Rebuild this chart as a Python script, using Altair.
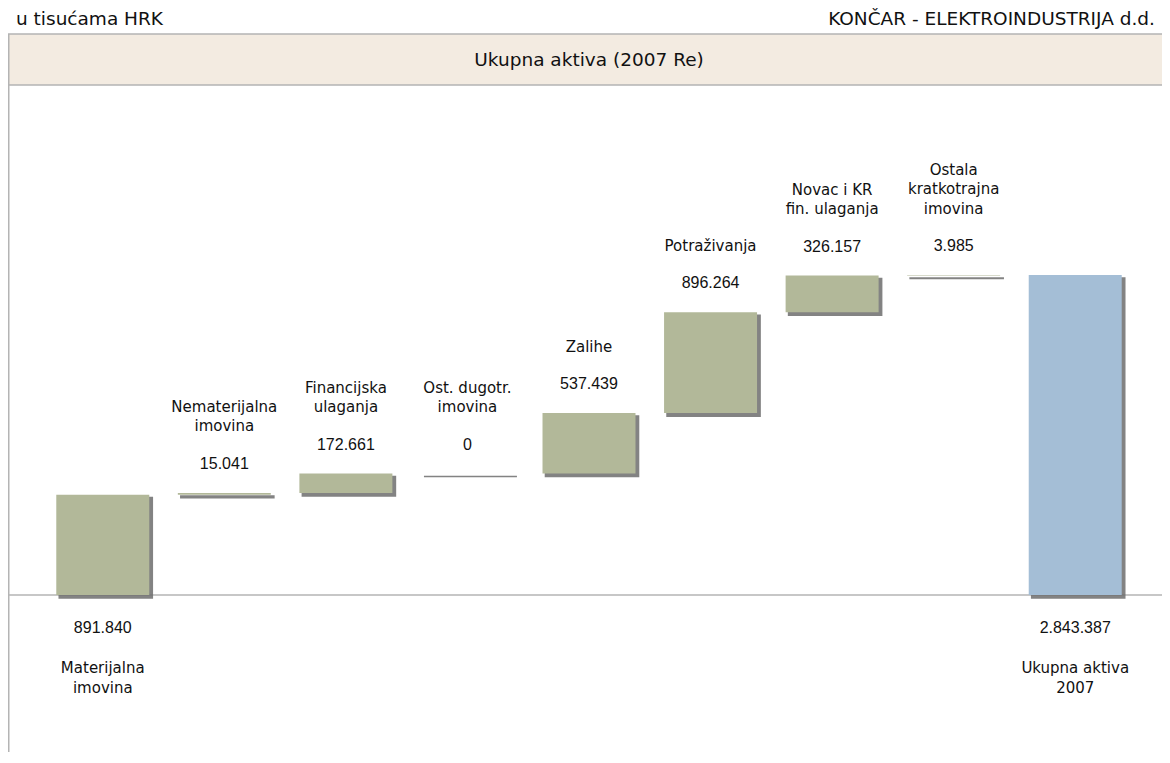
import altair as alt
import pandas as pd

# ---- data (u tisućama HRK) ----
categories = ["Materijalna imovina", "Nematerijalna imovina", "Financijska ulaganja",
              "Ost. dugotr. imovina", "Zalihe", "Potraživanja",
              "Novac i KR fin. ulaganja", "Ostala kratkotrajna imovina", "Ukupna aktiva 2007"]
label_lines = ["Materijalna\nimovina", "Nematerijalna\nimovina", "Financijska\nulaganja",
               "Ost. dugotr.\nimovina", "Zalihe", "Potraživanja", "Novac i KR\nfin. ulaganja",
               "Ostala\nkratkotrajna\nimovina", "Ukupna aktiva\n2007"]
values = [891840, 15041, 172661, 0, 537439, 896264, 326157, 3985, 2843387]
kinds = ["start", "step", "step", "step", "step", "step", "step", "step", "total"]

title_text = "Ukupna aktiva (2007 Re)"
left_header = "u tisućama HRK"
right_header = "KONČAR - ELEKTROINDUSTRIJA d.d."

rows = []
running = 0
for cat, lab, v, k in zip(categories, label_lines, values, kinds):
    if k == "step":
        s, e = running, running + v
        running = e
    else:
        s, e = 0, v
        running = v
    rows.append({"cat": cat, "label": lab, "value": v, "start": s, "end": e, "kind": k,
                 "nlines": lab.count("\n") + 1,
                 "valtext": f"{v:,}".replace(",", ".")})
df = pd.DataFrame(rows)

# ---- layout ----
W, H = 1154, 744
GREEN = "#B2B899"
BLUE = "#A4BED6"
SHADOW = "#6E6E6E"
LINE = "#B4B4B4"
BAND = "#F3EBE1"
TXT = "#111111"
LABEL_FONT = "DejaVu Sans"
VALUE_FONT = "Liberation Sans"
LFS = 15      # label font size
VFS = 16      # value font size
LH = 19.5     # label line height

xscale = alt.Scale(domain=categories, range=[34, 1128], paddingInner=0.235, paddingOuter=0.1175)
k = 0.1125 / 1000.0
yscale = alt.Scale(domain=[-(H - 587) / k, 587 / k], nice=False, zero=False)

X = alt.X("cat:N", scale=xscale, axis=None)
Y = alt.Y("end:Q", scale=yscale, axis=None)
YS = alt.Y("start:Q", scale=yscale, axis=None)

one = pd.DataFrame({"zero": [0]})

band = alt.Chart(one).mark_rect(fill=BAND, stroke=LINE, strokeWidth=1.5).encode(
    x=alt.value(0), x2=alt.value(W + 5), y=alt.value(26), y2=alt.value(77))
vline = alt.Chart(one).mark_rule(color=LINE, strokeWidth=1.5).encode(
    x=alt.value(0.75), y=alt.value(26), y2=alt.value(H))
baseline = alt.Chart(one).mark_rule(color=LINE, strokeWidth=1.5).encode(
    y=alt.Y("zero:Q", scale=yscale, axis=None), x=alt.value(0), x2=alt.value(W))

title = alt.Chart(one).mark_text(font=LABEL_FONT, fontSize=18.5, color=TXT,
                                 align="center", baseline="middle").encode(
    x=alt.value(581), y=alt.value(52), text=alt.value(title_text))
hdr_l = alt.Chart(one).mark_text(font=LABEL_FONT, fontSize=18.5, color=TXT,
                                 align="left", baseline="middle").encode(
    x=alt.value(8), y=alt.value(11), text=alt.value(left_header))
hdr_r = alt.Chart(one).mark_text(font=LABEL_FONT, fontSize=18.5, color=TXT,
                                 align="right", baseline="middle").encode(
    x=alt.value(1147), y=alt.value(11), text=alt.value(right_header))

base = alt.Chart(df)

shadow = base.mark_bar(color=SHADOW, stroke=SHADOW, strokeWidth=1.6, opacity=0.85,
                       xOffset=3, yOffset=3, y2Offset=3).encode(
    x=X, y=Y, y2="start:Q")
bars = base.mark_bar().encode(
    x=X, y=Y, y2="start:Q",
    color=alt.Color("kind:N", scale=alt.Scale(domain=["start", "step", "total"],
                                              range=[GREEN, GREEN, BLUE]), legend=None))

steps = base.transform_filter(alt.datum.kind == "step")
ends = base.transform_filter(alt.datum.kind != "step")

step_val = steps.mark_text(font=VALUE_FONT, fontSize=VFS, color=TXT, baseline="middle",
                           dy=-29).encode(x=X, y=Y, text="valtext:N")

step_labs = []
for n in (1, 2, 3):
    step_labs.append(
        steps.transform_filter(alt.datum.nlines == n).mark_text(
            font=LABEL_FONT, fontSize=LFS, color=TXT, baseline="bottom",
            lineBreak="\n", lineHeight=LH, dy=-58.5 - LH * (n - 1)
        ).encode(x=X, y=Y, text="label:N"))

end_val = ends.mark_text(font=VALUE_FONT, fontSize=VFS, color=TXT, baseline="middle",
                         dy=33).encode(x=X, y=YS, text="valtext:N")
end_lab = ends.mark_text(font=LABEL_FONT, fontSize=LFS, color=TXT, baseline="top",
                         lineBreak="\n", lineHeight=LH, dy=66).encode(x=X, y=YS, text="label:N")

chart = alt.layer(band, vline, baseline, title, hdr_l, hdr_r, shadow, bars,
                  step_val, *step_labs, end_val, end_lab).properties(
    width=W, height=H, padding=0, autosize=alt.AutoSizeParams(type="none"),
    background="white"
).configure_view(stroke=None)

chart.save("out.html", embed_options={"renderer": "svg", "actions": False})
